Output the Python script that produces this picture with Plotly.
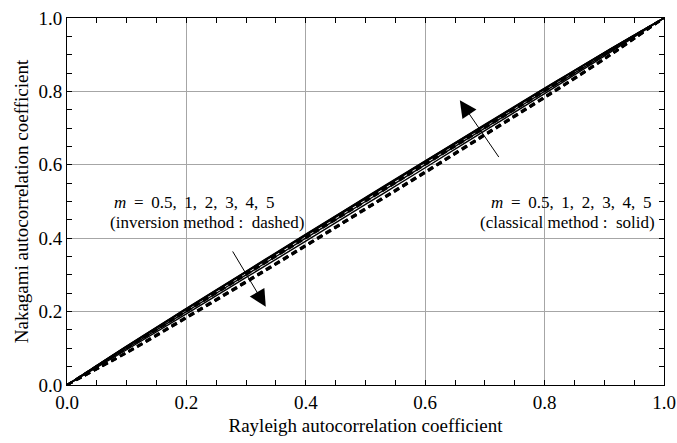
import plotly.graph_objects as go

# Rayleigh autocorrelation coefficient (x)
rho_r = [0, 0.1, 0.2, 0.3, 0.4, 0.5, 0.6, 0.7, 0.8, 0.9, 1.0]

m_values = ["0.5", "1", "2", "3", "4", "5"]

# Classical method (solid)
classical_m05 = [0, 0.096, 0.194, 0.293, 0.392, 0.492, 0.592, 0.693, 0.794, 0.896, 1.0]
classical_m1 = [0, 0.1, 0.2, 0.3, 0.4, 0.5, 0.6, 0.7, 0.8, 0.9, 1.0]
classical_m2 = [0, 0.104, 0.206, 0.307, 0.407, 0.507, 0.607, 0.706, 0.806, 0.904, 1.0]
classical_m3 = [0, 0.105, 0.207, 0.308, 0.409, 0.509, 0.609, 0.708, 0.807, 0.905, 1.0]
classical_m4 = [0, 0.106, 0.208, 0.309, 0.410, 0.510, 0.610, 0.709, 0.808, 0.906, 1.0]
classical_m5 = [0, 0.106, 0.209, 0.310, 0.411, 0.511, 0.611, 0.710, 0.809, 0.906, 1.0]

# Inversion method (dashed)
inversion_m05 = [0, 0.103, 0.204, 0.305, 0.405, 0.505, 0.605, 0.705, 0.804, 0.903, 1.0]
inversion_m1 = [0, 0.1, 0.2, 0.3, 0.4, 0.5, 0.6, 0.7, 0.8, 0.9, 1.0]
inversion_m2 = [0, 0.090, 0.186, 0.283, 0.382, 0.482, 0.582, 0.684, 0.786, 0.890, 1.0]
inversion_m3 = [0, 0.089, 0.184, 0.282, 0.380, 0.480, 0.580, 0.682, 0.784, 0.889, 1.0]
inversion_m4 = [0, 0.088, 0.183, 0.280, 0.379, 0.479, 0.579, 0.681, 0.783, 0.888, 1.0]
inversion_m5 = [0, 0.087, 0.182, 0.279, 0.378, 0.478, 0.578, 0.680, 0.782, 0.887, 1.0]

classical = [classical_m05, classical_m1, classical_m2, classical_m3, classical_m4, classical_m5]
inversion = [inversion_m05, inversion_m1, inversion_m2, inversion_m3, inversion_m4, inversion_m5]

FONT = "Liberation Serif"

fig = go.Figure()

for m, ys in zip(m_values, inversion):
    fig.add_trace(go.Scatter(
        x=rho_r, y=ys, mode="lines", name=f"inversion m={m}",
        line=dict(color="black", width=2.2, dash="6px,4px", shape="spline"),
        showlegend=False, hoverinfo="skip"))

for m, ys in zip(m_values, classical):
    fig.add_trace(go.Scatter(
        x=rho_r, y=ys, mode="lines", name=f"classical m={m}",
        line=dict(color="black", width=1.4, shape="spline"),
        showlegend=False, hoverinfo="skip"))

axis_common = dict(
    range=[0, 1], dtick=0.2, tickformat=".1f",
    showgrid=True, gridcolor="#a6a6a6", gridwidth=1,
    showline=True, linecolor="black", linewidth=1, mirror="ticks",
    ticks="inside", ticklen=5, tickcolor="black", tickwidth=1,
    minor=dict(dtick=0.05, ticks="inside", ticklen=5, tickcolor="black",
               showgrid=False),
    zeroline=False, automargin=False,
    tickfont=dict(family=FONT, size=19, color="black"),
)

fig.update_xaxes(**axis_common,
                 title=dict(text="Rayleigh autocorrelation coefficient",
                            font=dict(family=FONT, size=19, color="black"),
                            standoff=6))
fig.update_yaxes(**axis_common,
                 title=dict(text="Nakagami autocorrelation coefficient",
                            font=dict(family=FONT, size=19, color="black"),
                            standoff=4))

txt_font = dict(family=FONT, size=17, color="black")
sep = ",\u2009 "
m_text = "<i>m</i>\u2009 =\u2009 " + sep.join(m_values)
annotations = [
    dict(x=0.0754, y=0.498, text=m_text, showarrow=False, font=txt_font, xanchor="left"),
    dict(x=0.0687, y=0.442, text="(inversion method :  dashed)", showarrow=False,
         font=txt_font, xanchor="left"),
    dict(x=0.9816, y=0.498, text=m_text, showarrow=False, font=txt_font, xanchor="right"),
    dict(x=0.9883, y=0.442, text="(classical method :  solid)", showarrow=False,
         font=txt_font, xanchor="right"),
    # arrows
    dict(x=0.658, y=0.776, ax=0.725, ay=0.617, axref="x", ayref="y",
         xref="x", yref="y", text="", showarrow=True,
         arrowhead=2, arrowsize=3.4, arrowwidth=1, arrowcolor="black"),
    dict(x=0.333, y=0.213, ax=0.276, ay=0.368, axref="x", ayref="y",
         xref="x", yref="y", text="", showarrow=True,
         arrowhead=2, arrowsize=3.4, arrowwidth=1, arrowcolor="black"),
]

fig.update_layout(
    width=677, height=443,
    margin=dict(l=67, r=13, t=18, b=58),
    paper_bgcolor="white", plot_bgcolor="white",
    annotations=annotations,
    font=dict(family=FONT, color="black"),
)

fig.write_html("out.html")
